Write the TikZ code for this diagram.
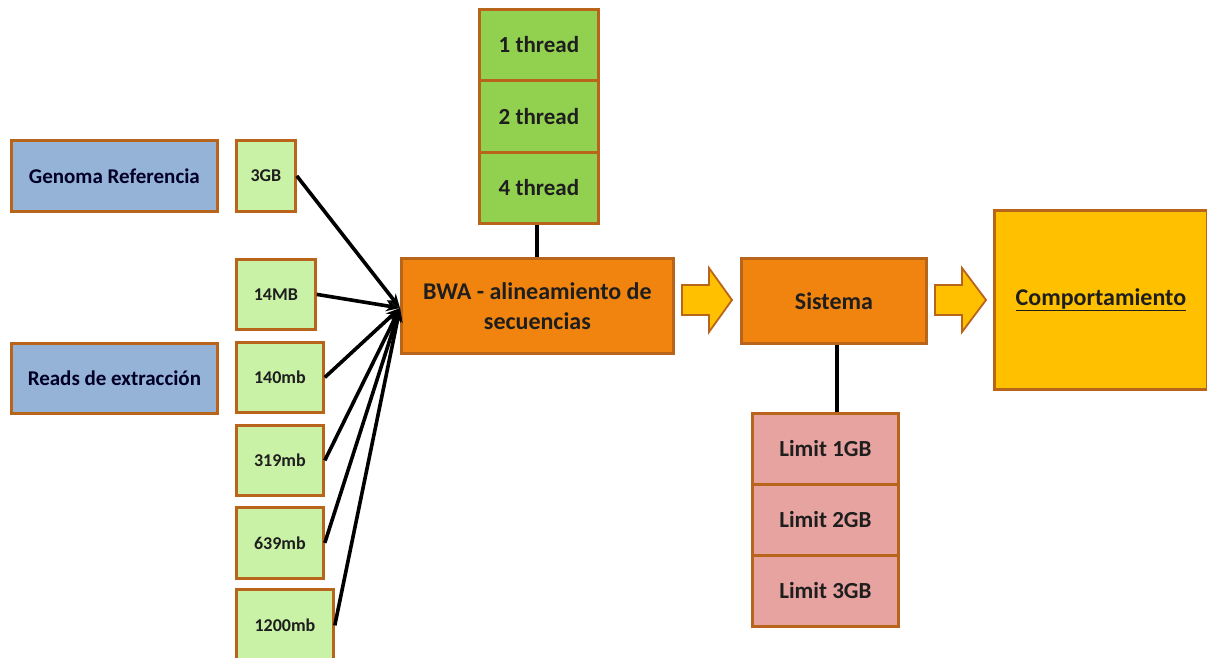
\documentclass[tikz,border=0pt]{standalone}
\usepackage{fontspec}
\setmainfont{Carlito}
\usetikzlibrary{arrows.meta}
\definecolor{edgebrown}{HTML}{B8651B}
\definecolor{skyblue}{HTML}{95B3D7}
\definecolor{palegreen}{HTML}{C9F2A6}
\definecolor{leafgreen}{HTML}{92D050}
\definecolor{deeporange}{HTML}{F0840F}
\definecolor{amber}{HTML}{FFC000}
\definecolor{rosepink}{HTML}{E6A3A0}
\definecolor{inkdark}{HTML}{1E1E1E}
\tikzset{
  box/.style={draw=edgebrown, line width=2.8pt, inner sep=0pt, font=\bfseries, text=inkdark, anchor=north west},
  sizebox/.style={box, fill=palegreen, font=\bfseries\fontsize{18}{20}\selectfont},
  inputbox/.style={box, fill=skyblue, font=\bfseries\fontsize{21}{24}\selectfont, text=black!85!blue},
  threadbox/.style={box, fill=leafgreen, font=\bfseries\fontsize{23}{26}\selectfont},
  limitbox/.style={box, fill=rosepink, font=\bfseries\fontsize{23}{26}\selectfont},
  stagebox/.style={box, fill=deeporange, font=\bfseries\fontsize{24}{28}\selectfont, align=center},
  resultbox/.style={box, fill=amber, font=\bfseries\fontsize{24}{28}\selectfont},
  feed/.style={line width=3.6pt, black, -{Stealth[length=14pt,width=11pt]}},
  link/.style={line width=3.6pt, black},
  flowarrow/.style={draw=edgebrown, line width=1.8pt, fill=amber, line join=miter}
}
\begin{document}
\begin{tikzpicture}[x=1pt, y=-1pt]
\useasboundingbox (0,0) rectangle (1207,658);

% inputs
\node[inputbox, minimum width=206pt, minimum height=71pt] (genoma) at (10,139) {Genoma Referencia};
\node[inputbox, minimum width=206pt, minimum height=70pt] (reads) at (10,342) {Reads de extracción};

% input sizes
\node[sizebox, minimum width=59pt, minimum height=71pt] (s3gb) at (235,139) {3GB};
\node[sizebox, minimum width=79pt, minimum height=70pt] (s14) at (235,258) {14MB};
\node[sizebox, minimum width=87pt, minimum height=70pt] (s140) at (235,341) {140mb};
\node[sizebox, minimum width=87pt, minimum height=70pt] (s319) at (235,424) {319mb};
\node[sizebox, minimum width=87pt, minimum height=71pt] (s639) at (235,506) {639mb};
\node[sizebox, minimum width=97pt, minimum height=72pt] (s1200) at (235,588) {1200mb};

% aligner
\node[stagebox, minimum width=272pt, minimum height=95pt] (bwa) at (400,257) {BWA - alineamiento de\\[2pt]secuencias};
\coordinate (hub) at (400,308);

% threads
\node[threadbox, minimum width=119pt, minimum height=71pt] (t1) at (478,8) {1 thread};
\node[threadbox, minimum width=119pt, minimum height=72pt] (t2) at (478,79) {2 thread};
\node[threadbox, minimum width=119pt, minimum height=71pt] (t4) at (478,151) {4 thread};

% system
\node[stagebox, minimum width=185pt, minimum height=85pt] (sis) at (740,257) {Sistema};

% memory limits
\node[limitbox, minimum width=146pt, minimum height=71pt] (l1) at (751,412) {Limit 1GB};
\node[limitbox, minimum width=146pt, minimum height=71pt] (l2) at (751,483) {Limit 2GB};
\node[limitbox, minimum width=146pt, minimum height=71pt] (l3) at (751,554) {Limit 3GB};

% result
\node[resultbox, minimum width=213pt, minimum height=179pt] (comp) at (993,209) {\underline{Comportamiento}};

% block arrows between stages
\draw[flowarrow] (682,285) -- (709,285) -- (709,268) -- (732,300) -- (709,332) -- (709,315) -- (682,315) -- cycle;
\draw[flowarrow] (935,285) -- (962,285) -- (962,268) -- (986,300) -- (962,332) -- (962,315) -- (935,315) -- cycle;

% connectors
\foreach \n in {s3gb,s14,s140,s319,s639,s1200}
  \draw[feed] (\n.east) -- (hub);
\draw[link] (t4.south -| 537,0) -- (bwa.north -| 537,0);
\draw[link] (sis.south -| 837,0) -- (l1.north -| 837,0);
\end{tikzpicture}
\end{document}
